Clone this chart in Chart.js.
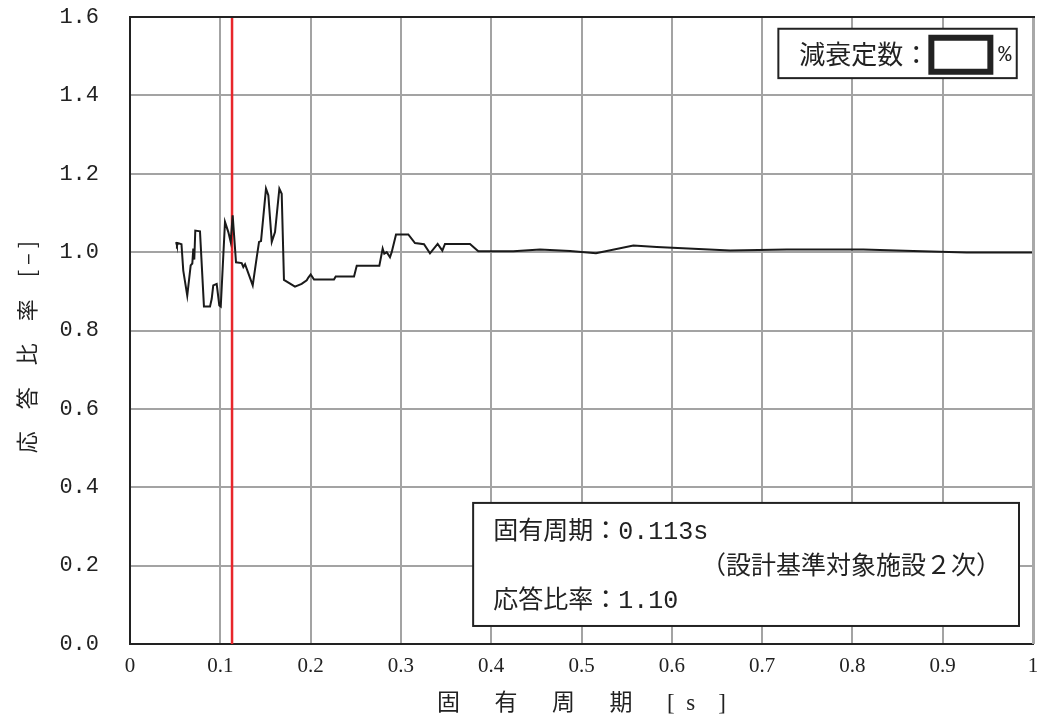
<!DOCTYPE html>
<html>
<head>
<meta charset="utf-8">
<script src="https://cdn.jsdelivr.net/npm/chart.js@4"></script>
<style>
  body { margin: 0; background: #fff; }
  #wrap { width: 1047px; height: 727px; position: relative; }
</style>
</head>
<body>
<div id="wrap"><canvas id="chart"></canvas></div>
<script>
// 固有周期 [s] と 応答比率 [-]
const periods = [
  0.051, 0.052, 0.0535, 0.057, 0.059, 0.0634, 0.0672, 0.069, 0.0701, 0.0712,
  0.0723, 0.0775, 0.0819, 0.0886, 0.0905, 0.0922, 0.096, 0.0989, 0.1005, 0.1052,
  0.1089, 0.1115, 0.1137, 0.1174, 0.1237, 0.1255, 0.1274, 0.130, 0.1359, 0.1403,
  0.1429, 0.1451, 0.1506, 0.1532, 0.157, 0.1606, 0.1654, 0.168, 0.1705, 0.1827,
  0.1901, 0.1957, 0.1975, 0.2001, 0.2038, 0.2259, 0.2278, 0.2481, 0.2511, 0.2761,
  0.2798, 0.2816, 0.2843, 0.2879, 0.2898, 0.2946, 0.3082, 0.3156, 0.3256, 0.3322,
  0.3407, 0.3459, 0.3488, 0.3765, 0.3857, 0.4245, 0.454, 0.4873, 0.516, 0.5574,
  0.5833, 0.6645, 0.7273, 0.812, 0.8674, 0.9266, 1.0
];
const ratios = [
  1.026, 1.017, 1.023, 1.020, 0.953, 0.889, 0.966, 0.971, 1.009, 0.981,
  1.055, 1.053, 0.861, 0.861, 0.881, 0.915, 0.919, 0.864, 0.861, 1.077,
  1.051, 1.026, 1.094, 0.974, 0.972, 0.962, 0.969, 0.953, 0.915, 0.986,
  1.026, 1.028, 1.162, 1.145, 1.026, 1.051, 1.162, 1.149, 0.929, 0.912,
  0.919, 0.928, 0.935, 0.943, 0.930, 0.930, 0.938, 0.938, 0.965, 0.965,
  1.009, 0.996, 1.000, 0.987, 1.000, 1.045, 1.045, 1.023, 1.020, 0.997,
  1.021, 1.004, 1.021, 1.021, 1.002, 1.002, 1.007, 1.003, 0.997, 1.017,
  1.013, 1.004, 1.007, 1.007, 1.003, 0.999, 0.999
];

// 設計基準対象施設の固有周期（赤線）
const markerX = [0.113, 0.113];
const markerY = [0, 1.6];

const xTickLabels = ['0', '0.1', '0.2', '0.3', '0.4', '0.5', '0.6', '0.7', '0.8', '0.9', '1'];
const yTickLabels = ['0.0', '0.2', '0.4', '0.6', '0.8', '1.0', '1.2', '1.4', '1.6'];

const dampingLabel = '減衰定数：';
const infoLines = ['固有周期：0.113s', '（設計基準対象施設２次）', '応答比率：1.10'];

const INK = '#222';
const GRID = '#a3a3a3';
const CJK = '"Noto Sans CJK JP"';

// 枠線（上・右）と注記ボックス
const notesPlugin = {
  id: 'notes',
  afterDraw(chart) {
    const { ctx, chartArea: ca } = chart;
    const xs = chart.scales.x, ys = chart.scales.y;
    ctx.save();

    ctx.strokeStyle = '#a8a8a8';
    ctx.lineWidth = 3;
    ctx.beginPath();
    ctx.moveTo(ca.right + 0.5, ca.top);
    ctx.lineTo(ca.right + 0.5, ca.bottom);
    ctx.stroke();
    ctx.strokeStyle = INK;
    ctx.lineWidth = 2;
    ctx.beginPath();
    ctx.moveTo(ca.left - 1, ca.top);
    ctx.lineTo(ca.right + 2, ca.top);
    ctx.stroke();

    // 減衰定数ボックス
    let l = xs.getPixelForValue(0.718), r = xs.getPixelForValue(0.982);
    let t = ys.getPixelForValue(1.570), b = ys.getPixelForValue(1.444);
    ctx.fillStyle = '#fff';
    ctx.fillRect(l, t, r - l, b - t);
    ctx.strokeStyle = INK;
    ctx.lineWidth = 2;
    ctx.strokeRect(l, t, r - l, b - t);
    ctx.fillStyle = INK;
    ctx.textBaseline = 'middle';
    ctx.textAlign = 'left';
    ctx.font = '26px ' + CJK;
    ctx.fillText(dampingLabel, l + 21, (t + b) / 2 + 1);
    ctx.lineWidth = 6;
    ctx.strokeRect(l + 153, t + 9, 59, 34);
    ctx.font = '22px "Liberation Mono"';
    ctx.fillText('%', l + 220, (t + b) / 2 + 2);

    // 固有周期・応答比率ボックス
    l = xs.getPixelForValue(0.380); r = xs.getPixelForValue(0.9845);
    t = ys.getPixelForValue(0.360); b = ys.getPixelForValue(0.046);
    ctx.fillStyle = '#fff';
    ctx.fillRect(l, t, r - l, b - t);
    ctx.lineWidth = 2;
    ctx.strokeRect(l, t, r - l, b - t);
    ctx.fillStyle = INK;
    ctx.font = '25px "Liberation Mono", ' + CJK;
    ctx.textAlign = 'left';
    ctx.fillText(infoLines[0], l + 20, t + 29);
    ctx.textAlign = 'right';
    ctx.fillText(infoLines[1], r - 18, t + 64);
    ctx.textAlign = 'left';
    ctx.fillText(infoLines[2], l + 20, t + 98);
    ctx.restore();
  }
};

new Chart(document.getElementById('chart'), {
  type: 'line',
  data: {
    datasets: [
      {
        data: periods.map((p, i) => ({ x: p, y: ratios[i] })),
        borderColor: '#1a1a1a',
        borderWidth: 2,
        pointRadius: 0,
        tension: 0
      },
      {
        data: markerX.map((p, i) => ({ x: p, y: markerY[i] })),
        borderColor: '#e8262b',
        borderWidth: 2.5,
        pointRadius: 0
      }
    ]
  },
  options: {
    responsive: true,
    maintainAspectRatio: false,
    animation: false,
    layout: { padding: { left: 0, right: 14, top: 17, bottom: 0 } },
    plugins: { legend: { display: false }, tooltip: { enabled: false } },
    scales: {
      x: {
        type: 'linear',
        min: 0,
        max: 1,
        afterFit: s => { s.height = 83; s.paddingLeft = 0; s.paddingRight = 0; },
        ticks: {
          stepSize: 0.1,
          padding: 10,
          color: INK,
          font: { family: '"Liberation Serif"', size: 21 },
          callback: (v, i) => xTickLabels[i]
        },
        grid: { color: GRID, lineWidth: 2, drawTicks: false },
        border: { color: INK, width: 2 },
        title: {
          display: true,
          text: '固\u3000\u2002有\u3000\u2002周\u3000\u2002期\u3000\u2002[\u2002s\u2002\u2002]',
          color: INK,
          font: { family: '"Liberation Serif", ' + CJK, size: 23 },
          padding: { top: 0, bottom: 9 }
        }
      },
      y: {
        min: 0,
        max: 1.6,
        afterFit: s => { s.width = 130; s.paddingTop = 0; s.paddingBottom = 0; },
        ticks: {
          stepSize: 0.2,
          padding: 31,
          color: INK,
          font: { family: '"Liberation Mono"', size: 22 },
          callback: (v, i) => yTickLabels[i]
        },
        grid: { color: GRID, lineWidth: 2, drawTicks: false },
        border: { color: INK, width: 2 },
        title: {
          display: true,
          text: '応\u3000答\u3000比\u3000率\u3000[ – ]\u3000\u2002',
          color: INK,
          font: { family: CJK, size: 22 },
          padding: { top: 13, bottom: 0 }
        }
      }
    }
  },
  plugins: [notesPlugin]
});
</script>
</body>
</html>
